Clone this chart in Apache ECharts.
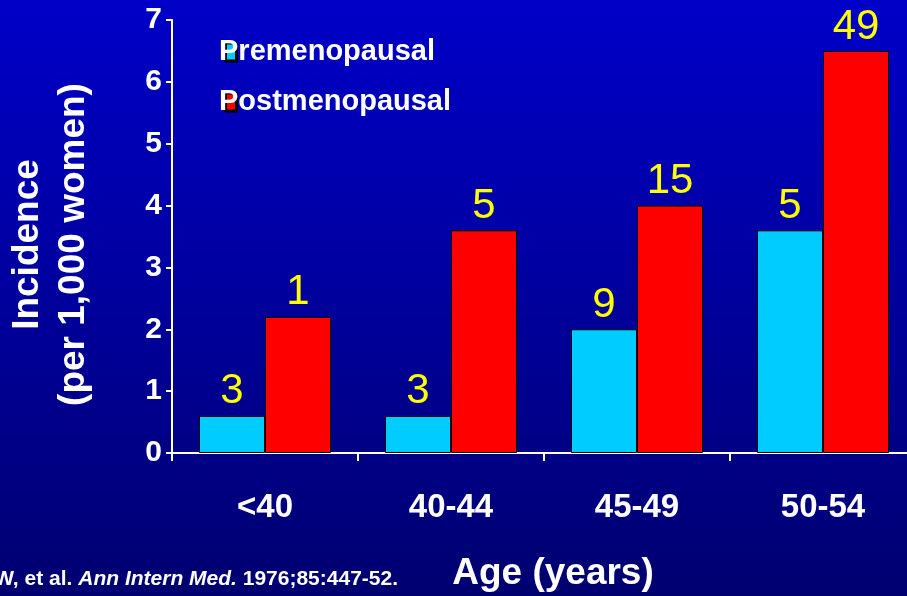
<!DOCTYPE html>
<html>
<head>
<meta charset="utf-8">
<script src="https://cdn.jsdelivr.net/npm/echarts@6/dist/echarts.min.js"></script>
<style>
  html, body { margin: 0; padding: 0; }
  #chart { width: 907px; height: 596px; }
</style>
</head>
<body>
<div id="chart"></div>
<script>
// age groups on the x axis
const ageGroups = ['<40', '40-44', '45-49', '50-54'];
const yTicks = [0, 1, 2, 3, 4, 5, 6, 7];

// incidence per 1,000 women
const preValues = [0.6, 0.6, 2.0, 3.6];
const postValues = [2.2, 3.6, 4.0, 6.5];

// counts printed above the bars
const preCounts = [3, 3, 9, 5];
const postCounts = [1, 5, 15, 49];

const font = 'Arial, "Liberation Sans", sans-serif';

const chart = echarts.init(document.getElementById('chart'));

const barLabel = (counts) => ({
  show: true,
  position: 'top',
  distance: 3,
  color: '#ffff00',
  fontFamily: font,
  fontSize: 42,
  formatter: (p) => String(counts[p.dataIndex])
});

const option = {
  animation: false,
  backgroundColor: {
    type: 'linear', x: 0, y: 0, x2: 0, y2: 1,
    colorStops: [
      { offset: 0, color: '#0000c8' },
      { offset: 1, color: '#000070' }
    ]
  },
  legend: {
    orient: 'vertical',
    left: 219,
    top: 37,
    padding: 0,
    itemGap: 21,
    itemWidth: 11,
    itemHeight: 18,
    icon: 'rect',
    itemStyle: { shadowColor: '#000000', shadowOffsetX: 1, shadowOffsetY: 1 },
    textStyle: {
      color: '#ffffff',
      fontFamily: font,
      fontWeight: 'bold',
      fontSize: 29,
      padding: [0, 0, 0, -22]
    },
    data: ['Premenopausal', 'Postmenopausal']
  },
  grid: {
    left: 172,
    top: 20,
    width: 744,
    height: 433,
    outerBoundsMode: 'none'
  },
  xAxis: {
    type: 'category',
    data: ageGroups,
    name: 'Age (years)',
    nameLocation: 'middle',
    nameGap: 102,
    nameTextStyle: {
      color: '#ffffff',
      fontFamily: font,
      fontWeight: 'bold',
      fontSize: 37,
      padding: [0, 0, 0, 18]
    },
    axisLine: { lineStyle: { color: '#ffffff', width: 2 } },
    axisTick: { show: true, length: 8, lineStyle: { color: '#ffffff', width: 2 } },
    axisLabel: {
      color: '#ffffff',
      fontFamily: font,
      fontWeight: 'bold',
      fontSize: 33,
      margin: 38
    }
  },
  yAxis: {
    type: 'value',
    min: yTicks[0],
    max: yTicks[yTicks.length - 1],
    interval: 1,
    name: 'Incidence\n(per 1,000 women)',
    nameLocation: 'middle',
    nameRotate: 90,
    nameGap: 75,
    nameTextStyle: {
      color: '#ffffff',
      fontFamily: font,
      fontWeight: 'bold',
      fontSize: 37,
      lineHeight: 46,
      padding: [0, 0, 0, -16]
    },
    splitLine: { show: false },
    axisLine: { show: true, lineStyle: { color: '#ffffff', width: 2 } },
    axisTick: { show: true, length: 6, lineStyle: { color: '#ffffff', width: 2 } },
    axisLabel: {
      color: '#ffffff',
      fontFamily: font,
      fontWeight: 'bold',
      fontSize: 30,
      margin: 10
    }
  },
  series: [
    {
      name: 'Premenopausal',
      type: 'bar',
      data: preValues,
      barWidth: 66,
      barGap: '0%',
      itemStyle: { color: '#00ccff', borderColor: '#000000', borderWidth: 1 },
      label: barLabel(preCounts)
    },
    {
      name: 'Postmenopausal',
      type: 'bar',
      data: postValues,
      barWidth: 66,
      barGap: '0%',
      itemStyle: { color: '#ff0000', borderColor: '#000000', borderWidth: 1 },
      label: barLabel(postCounts)
    }
  ],
  graphic: [
    {
      type: 'text',
      right: 907 - 398,
      top: 569,
      style: {
        text: 'Kannel W, et al. {i|Ann Intern Med.} 1976;85:447-52.',
        fill: '#ffffff',
        font: 'bold 21px ' + font,
        rich: {
          i: { fontStyle: 'italic', fontWeight: 'bold', fontSize: 21, fill: '#ffffff', fontFamily: font }
        }
      }
    }
  ]
};

chart.setOption(option);
</script>
</body>
</html>
